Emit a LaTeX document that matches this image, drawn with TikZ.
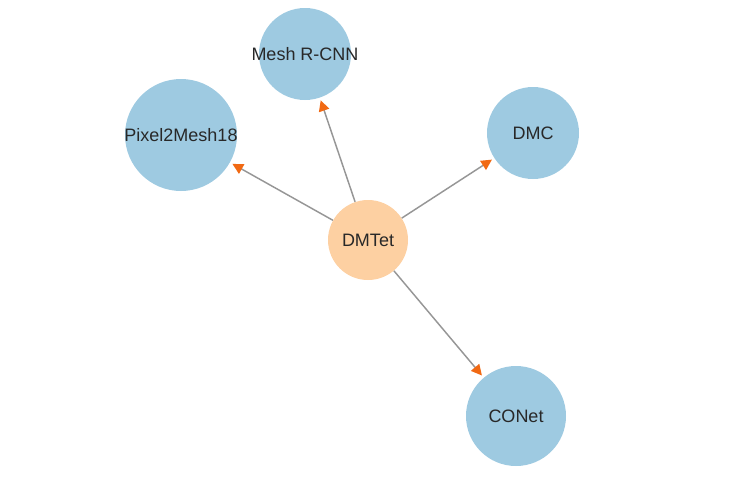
\documentclass[tikz,border=0pt]{standalone}
\usepackage{fontspec}
\setmainfont{Liberation Sans}
\usetikzlibrary{arrows.meta}
\definecolor{nodeblue}{RGB}{158,202,225}
\definecolor{nodepeach}{RGB}{253,208,162}
\definecolor{tiporange}{RGB}{241,105,19}
\definecolor{edgegray}{RGB}{150,150,150}
\definecolor{labelgray}{RGB}{40,40,40}

\begin{document}
\begin{tikzpicture}[x=0.75pt, y=-0.75pt, font=\fontsize{13.5}{15}\selectfont,
      paper/.style={circle, fill=nodeblue, inner sep=0pt, text=labelgray},
      seed/.style={circle, fill=nodepeach, inner sep=0pt, text=labelgray},
      cites/.style={draw=edgegray, line width=1.1pt, shorten >=2pt,
                    -{Triangle[length=8pt, width=8pt, color=tiporange]}}]
    \useasboundingbox (0,0) rectangle (742,482);
    \node[seed, minimum size=60pt, label={[text=labelgray]center:DMTet}] (dmtet) at (368,240) {};
    \node[paper, minimum size=69pt, label={[text=labelgray]center:Mesh R-CNN}] (meshrcnn) at (305,54) {};
    \node[paper, minimum size=84pt, label={[text=labelgray]center:Pixel2Mesh18}] (pixel) at (181,135) {};
    \node[paper, minimum size=69pt, label={[text=labelgray]center:DMC}] (dmc) at (533,133) {};
    \node[paper, minimum size=75pt, label={[text=labelgray]center:CONet}] (conet) at (516,416) {};
    \foreach \t in {meshrcnn, pixel, dmc, conet}
      \draw[cites] (dmtet) -- (\t);
  \end{tikzpicture}
\end{document}
